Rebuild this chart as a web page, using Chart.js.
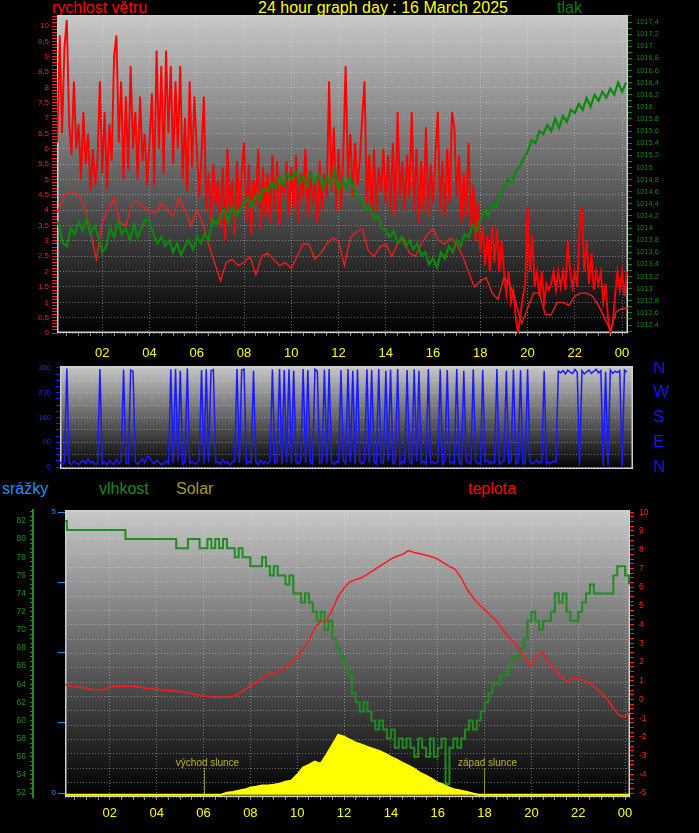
<!DOCTYPE html>
<html>
<head>
<meta charset="utf-8">
<title>24 hour graph</title>
<script src="https://cdn.jsdelivr.net/npm/chart.js@4.4.1/dist/chart.umd.min.js"></script>
<style>
  html, body { margin: 0; padding: 0; background: #000; }
  body { position: relative; width: 699px; height: 833px; overflow: hidden;
         font-family: Arial, "Liberation Sans", sans-serif; }
  canvas { position: absolute; left: 0; }
  .label { position: absolute; font-size: 16px; line-height: 18px; white-space: nowrap; }
</style>
</head>
<body>
<div class="label" style="left:52px; top:-1px; color:#ff0000">rychlost větru</div>
<div class="label" style="left:258px; top:-1px; color:#ffff00">24 hour graph day : 16 March 2025</div>
<div class="label" style="left:557px; top:-1px; color:#008000">tlak</div>
<div class="label" style="left:2px; top:480px; color:#1e90ff">srážky</div>
<div class="label" style="left:99px; top:480px; color:#1a8a1a">vlhkost</div>
<div class="label" style="left:176px; top:480px; color:#a09c22">Solar</div>
<div class="label" style="left:468px; top:480px; color:#ff0000">teplota</div>

<canvas id="wind" width="699" height="370" style="top:0"></canvas>
<canvas id="dir" width="699" height="118" style="top:362px"></canvas>
<canvas id="temp" width="699" height="333" style="top:500px"></canvas>

<script>
const GUST_STEP = 0.1;
const windGust = [
  7.7, 6.2, 9.7, 6.5, 9.3, 10.2, 6.8, 5.8, 8.2, 6.0,
  6.8, 5.0, 7.2, 5.5, 6.5, 4.6, 6.0, 4.8, 5.6, 8.2,
  5.2, 7.2, 4.7, 6.8, 5.6, 9.0, 9.7, 6.2, 8.2, 5.0,
  7.7, 5.3, 8.7, 6.0, 7.2, 5.0, 7.7, 5.6, 6.5, 4.8,
  6.2, 7.8, 4.8, 9.2, 6.0, 8.7, 5.2, 9.2, 6.5, 8.7,
  5.5, 8.2, 6.0, 8.7, 5.0, 7.0, 4.6, 8.2, 5.4, 7.7,
  6.0, 4.4, 5.8, 7.7, 4.0, 5.2, 3.6, 5.5, 4.2, 5.0,
  3.4, 5.4, 3.0, 6.0, 4.0, 5.0, 3.2, 5.6, 4.0, 5.2,
  6.2, 3.6, 5.5, 3.2, 5.0, 4.2, 6.0, 3.4, 5.4, 3.8,
  5.2, 3.6, 5.8, 4.0, 5.6, 3.5, 5.0, 4.4, 5.6, 3.8,
  5.4, 4.0, 5.8, 3.6, 5.2, 4.4, 6.0, 3.8, 5.3, 4.2,
  5.0, 3.6, 5.6, 4.0, 5.2, 4.4, 8.2, 4.6, 6.7, 4.0,
  6.0, 4.0, 5.8, 8.7, 5.0, 6.5, 4.4, 6.2, 4.8, 5.6,
  7.0, 8.2, 4.2, 5.8, 3.8, 6.0, 4.0, 5.4, 4.6, 6.0,
  4.2, 5.8, 4.0, 6.2, 3.8, 7.2, 4.4, 5.6, 4.0, 5.8,
  4.4, 7.2, 4.0, 6.0, 3.6, 5.6, 4.0, 6.7, 3.8, 5.5,
  4.2, 5.8, 7.2, 4.0, 5.6, 3.8, 6.0, 4.2, 7.2, 6.7,
  4.4, 5.8, 3.6, 5.2, 3.8, 6.2, 3.4, 4.8, 3.0, 4.2,
  2.6, 3.5, 2.2, 3.2, 2.0, 3.5, 2.3, 3.4, 2.0, 3.0,
  2.0, 1.3, 2.0, 1.0, 1.4, 0.5, 0.0, 0.6, 1.2, 1.6,
  4.1, 2.0, 3.2, 1.5, 2.0, 1.2, 2.0, 1.0, 1.6, 1.4,
  1.6, 2.0, 1.4, 2.0, 1.5, 2.0, 1.4, 3.0, 2.0, 1.5,
  2.0, 1.5, 3.4, 4.1, 2.0, 3.0, 1.6, 2.6, 1.4, 2.0,
  1.6, 2.0, 1.0, 1.6, 0.5, 0.0, 0.3, 1.2, 2.0, 1.4,
  2.0, 1.2, 2.0
];

const AVG_STEP = 0.25;
const windAvg = [
  3.8, 4.2, 4.6, 4.6,  4.5, 4.1, 3.3, 2.4,  3.6, 4.0, 4.4, 3.6,  3.5, 4.2, 4.3, 4.1,
  4.0, 3.9, 4.2, 4.0,  3.8, 4.4, 4.0, 3.5,  4.0, 3.6, 2.9, 2.3,  1.7, 2.3, 2.4, 2.2,
  2.3, 2.5, 1.9, 2.5,  2.6, 2.4, 2.2, 2.3,  2.1, 2.5, 2.9, 2.9,  2.4, 2.6, 2.9, 3.1,
  3.0, 2.2, 3.1, 3.3,  3.4, 2.7, 2.5, 2.8,  2.9, 2.5, 2.9, 3.1,  2.6, 2.5, 2.9, 3.2,
  3.4, 3.0, 2.9, 3.1,  2.9, 2.5, 2.0, 1.5,  1.7, 1.8, 1.3, 1.1,  1.8, 1.6, 1.0, 0.3,
  0.8, 1.3, 1.3, 0.6,  0.6, 1.0, 1.0, 0.9,  1.2, 1.3, 1.3, 1.2,  0.9, 0.5, 0.1, 0.7,
  0.8, 0.8
];

const PRESS_STEP = 1 / 6;
const pressure = [
  1014.15, 1014.05, 1013.75, 1013.70, 1014.00, 1013.90,
  1014.10, 1013.95, 1014.15, 1013.90, 1014.05, 1013.85,
  1013.60, 1013.70, 1014.00, 1013.85, 1014.10, 1013.90,
  1014.00, 1013.80, 1014.05, 1013.85, 1014.00, 1014.15,
  1014.10, 1013.90, 1013.75, 1013.85, 1013.70, 1013.80,
  1013.60, 1013.75, 1013.55, 1013.70, 1013.80, 1013.65,
  1013.85, 1013.75, 1013.90, 1013.80, 1014.15, 1014.05,
  1014.20, 1014.30, 1014.10, 1014.35, 1014.20, 1014.30,
  1014.40, 1014.50, 1014.35, 1014.55, 1014.45, 1014.65,
  1014.60, 1014.75, 1014.65, 1014.85, 1014.70, 1014.90,
  1014.80, 1014.95, 1014.75, 1014.85, 1014.70, 1014.90,
  1014.75, 1014.90, 1014.65, 1014.85, 1014.70, 1014.95,
  1014.60, 1014.80, 1014.65, 1014.85, 1014.60, 1014.50,
  1014.45, 1014.30, 1014.35, 1014.15, 1014.20, 1014.00,
  1013.95, 1013.85, 1013.95, 1013.75, 1013.85, 1013.70,
  1013.80, 1013.65, 1013.75, 1013.55, 1013.60, 1013.40,
  1013.50, 1013.35, 1013.60, 1013.50, 1013.70, 1013.60,
  1013.80, 1013.70, 1013.90, 1013.85, 1014.05, 1013.95,
  1014.15, 1014.30, 1014.20, 1014.40, 1014.35, 1014.55,
  1014.65, 1014.80, 1014.75, 1014.95, 1015.00, 1015.15,
  1015.25, 1015.45, 1015.40, 1015.60, 1015.55, 1015.70,
  1015.60, 1015.80, 1015.65, 1015.85, 1015.75, 1015.95,
  1015.90, 1016.05, 1015.95, 1016.15, 1016.00, 1016.20,
  1016.10, 1016.25, 1016.15, 1016.30, 1016.20, 1016.40,
  1016.25, 1016.40
];

const DIR_STEP = 0.1;
const windDir = [
  15, 12, 20, 8, 18, 358, 14, 10, 22, 16,
  9, 18, 25, 12, 30, 15, 20, 10, 14, 356,
  12, 18, 8, 24, 15, 10, 28, 14, 20, 354,
  16, 12, 352, 348, 18, 10, 22, 30, 15, 40,
  35, 20, 12, 25, 18, 8, 15, 22, 12, 355,
  15, 356, 20, 350, 10, 18, 358, 14, 22, 10,
  16, 25, 352, 12, 355, 18, 350, 354, 15, 20,
  10, 28, 14, 20, 8, 18, 22, 356, 15, 352,
  355, 12, 20, 15, 350, 18, 10, 24, 14, 20,
  12, 22, 354, 15, 20, 356, 10, 352, 18, 355,
  14, 350, 20, 12, 25, 356, 15, 352, 18, 10,
  355, 348, 14, 22, 354, 12, 356, 18, 10, 20,
  15, 352, 22, 12, 356, 18, 350, 10, 354, 20,
  12, 25, 355, 15, 352, 20, 10, 356, 18, 14,
  350, 22, 354, 12, 18, 356, 10, 20, 15, 352,
  18, 12, 355, 20, 350, 14, 22, 10, 356, 15,
  20, 12, 18, 354, 10, 22, 352, 15, 20, 12,
  356, 18, 10, 350, 22, 15, 12, 355, 20, 14,
  10, 352, 18, 25, 12, 20, 15, 356, 10, 18,
  22, 350, 14, 20, 354, 12, 18, 352, 10, 15,
  355, 20, 12, 18, 25, 14, 20, 350, 12, 18,
  15, 22, 18, 348, 342, 350, 338, 352, 345, 340,
  354, 344, 5, 350, 338, 346, 352, 340, 348, 355,
  342, 350, 4, 346, 6, 352, 340, 348, 344, 350,
  3, 352, 345
];

const HUM_STEP = 1 / 6;
const humidity = [
  82, 81, 81, 81, 81, 81,   81, 81, 81, 81, 81, 81,   81, 81, 81, 81, 80, 80,
  80, 80, 80, 80, 80, 80,   80, 80, 80, 80, 80, 79,   79, 79, 80, 80, 80, 79,
  79, 80, 79, 80, 79, 80,   79, 79, 78, 79, 78, 78,   77, 77, 77, 78, 77, 76,
  77, 76, 76, 75, 76, 74,   74, 73, 74, 73, 72, 71,   72, 70, 71, 69, 68, 67,
  66, 65, 63, 62, 61, 62,   61, 60, 59, 60, 59, 58,   59, 57, 58, 57, 58, 57,
  56, 58, 57, 56, 58, 56,   57, 58, 53, 57, 58, 57,   58, 59, 60, 59, 60, 61,
  62, 63, 64, 64, 65, 65,   66, 67, 67, 68, 69, 71,   72, 71, 70, 71, 71, 72,
  74, 73, 74, 72, 71, 71,   72, 73, 74, 75, 74, 74,   74, 74, 74, 76, 77, 77,
  76, 75
];

const TEMP_STEP = 0.25;
const temperature = [
  0.80, 0.75, 0.68, 0.65,  0.60, 0.52, 0.50, 0.55,  0.65, 0.70, 0.70, 0.70,
  0.70, 0.68, 0.60, 0.58,  0.55, 0.50, 0.48, 0.45,  0.42, 0.38, 0.30, 0.24,
  0.18, 0.14, 0.12, 0.12,  0.13, 0.16, 0.32, 0.50,  0.72, 0.90, 1.15, 1.35,
  1.42, 1.50, 1.70, 1.95,  2.30, 2.70, 3.10, 3.85,  4.15, 4.20, 4.80, 5.50,
  5.95, 6.28, 6.40, 6.50,  6.70, 6.90, 7.10, 7.30,  7.50, 7.65, 7.75, 7.95,
  7.85, 7.78, 7.70, 7.62,  7.50, 7.30, 7.10, 6.95,  6.50, 5.90, 5.45, 5.10,
  4.80, 4.50, 4.20, 3.80,  3.35, 3.05, 2.70, 2.15,  1.80, 2.35, 2.50, 1.95,
  1.60, 1.25, 0.95, 1.10,  1.10, 1.03, 0.86, 0.62,  0.32, 0.00, -0.47, -0.85,
  -0.92, -0.60
];

const SOLAR_STEP = 0.25;
const solar = [
  0, 0, 0, 0,  0, 0, 0, 0,  0, 0, 0, 0,  0, 0, 0, 0,  0, 0, 0, 0,  0, 0, 0, 0,
  0, 0, 0, 0,  7, 10, 14, 18,  25, 28, 32, 32,  35, 39, 46, 49,  70, 95, 105, 116,
  109, 140, 175, 210,  204, 193, 183, 176,  168, 161, 154, 144,  133, 123, 112, 102,
  91, 77, 67, 56,  42, 35, 25, 18,  14, 10, 4, 0,  0, 0, 0, 0,  0, 0, 0, 0,
  0, 0, 0, 0,  0, 0, 0, 0,  0, 0, 0, 0,  0, 0, 0, 0,  0, 0
];

const RAIN_STEP = 1;
const rain = [0, 0, 0, 0, 0, 0, 0, 0, 0, 0, 0, 0, 0, 0, 0, 0, 0, 0, 0, 0, 0, 0, 0, 0, 0];

const sunrise = 6.03;
const sunset = 17.99;
const compass = { 0: 'N', 90: 'E', 180: 'S', 270: 'W', 360: 'N' };

const FONT = 'Arial, "Liberation Sans", sans-serif';
Chart.defaults.font.family = FONT;
const GRID = 'rgba(230,230,230,0.42)';

// k-th multiple test done on integers so 4.0 is never lost to rounding
const every = (v, minor, major) => Math.round(v / minor) % Math.round(major / minor) === 0;
const comma = v => String(Math.round(v * 10) / 10).replace('.', ',');
const hh = v => String(Math.round(v) % 24).padStart(2, '0');
const pts = (values, step) => values.map((y, i) => ({ x: i * step, y }));
// fixed axis size, and no extra room reserved for the end labels
const fit = size => scale => {
  if (scale.isHorizontal()) scale.height = size; else scale.width = size;
  scale.paddingTop = scale.paddingBottom = scale.paddingLeft = scale.paddingRight = 0;
};
// one tick at every multiple of step inside the axis range
const stepTicks = step => scale => {
  const out = [];
  for (let k = Math.ceil(scale.min / step - 1e-9); k * step <= scale.max + 1e-9; k++) {
    out.push({ value: Math.round(k * step * 1000) / 1000 });
  }
  scale.ticks = out;
};

// grey-to-black plot background and light frame
const plotFrame = {
  id: 'plotFrame',
  beforeDraw(chart) {
    const { ctx, chartArea: a } = chart;
    const g = ctx.createLinearGradient(0, a.top, 0, a.bottom);
    g.addColorStop(0, '#c8c8c8');
    g.addColorStop(1, '#000000');
    ctx.save();
    ctx.fillStyle = g;
    ctx.fillRect(a.left, a.top, a.right - a.left, a.bottom - a.top);
    ctx.restore();
  },
  beforeDatasetsDraw(chart) {
    const { ctx, chartArea: a } = chart;
    ctx.save();
    ctx.strokeStyle = '#cfcfcf';
    ctx.lineWidth = 1.5;
    ctx.strokeRect(a.left + 0.75, a.top + 0.75, a.right - a.left - 1.5, a.bottom - a.top - 1.5);
    ctx.restore();
  }
};

const sunMarks = {
  id: 'sunMarks',
  beforeDatasetsDraw(chart) {
    const { ctx, chartArea: a, scales: { x } } = chart;
    ctx.save();
    ctx.font = '10px ' + FONT;
    ctx.textAlign = 'center';
    [[sunrise, 'východ slunce'], [sunset, 'západ slunce']].forEach(([h, text]) => {
      const px = Math.round(x.getPixelForValue(h)) + 0.5;
      ctx.strokeStyle = '#8e8e1c';
      ctx.lineWidth = 1;
      ctx.beginPath();
      ctx.moveTo(px, a.bottom - 29);
      ctx.lineTo(px, a.bottom - 2);
      ctx.stroke();
      ctx.fillStyle = '#b8b42c';
      ctx.fillText(text, px + 3, a.bottom - 31);
    });
    ctx.restore();
  }
};

function timeAxis(min, max, height, pad) {
  return {
    type: 'linear', min, max, afterFit: fit(height), afterBuildTicks: stepTicks(0.5),
    border: { display: false, dash: [1, 2] },
    grid: { color: c => c.tick && every(c.tick.value, 0.5, 2) ? GRID : 'transparent', tickColor: '#8a8a8a', tickLength: 3 },
    ticks: { autoSkip: false, maxRotation: 0, padding: pad,
             color: '#ffff00', font: { size: 13 }, callback: v => every(v, 0.5, 2) ? hh(v) : '' }
  };
}

function options(padding, scales) {
  return {
    responsive: false, animation: false, devicePixelRatio: 1,
    layout: { padding },
    plugins: { legend: { display: false }, tooltip: { enabled: false } },
    elements: { point: { radius: 0 }, line: { tension: 0 } },
    scales
  };
}

// wind speed + pressure
new Chart(document.getElementById('wind'), {
  type: 'line',
  data: { datasets: [
    { data: pts(pressure, PRESS_STEP), yAxisID: 'p', borderColor: '#0a8a0a', borderWidth: 2.2 },
    { data: pts(windAvg, AVG_STEP), yAxisID: 'y', borderColor: '#ff1a1a', borderWidth: 1.3 },
    { data: pts(windGust, GUST_STEP), yAxisID: 'y', borderColor: '#ff0000', borderWidth: 1.9 }
  ]},
  options: options({ top: 15 }, {
    x: timeAxis(0.085, 24.25, 37, 10),
    y: { type: 'linear', position: 'left', min: 0, max: 10.36, afterFit: fit(57), afterBuildTicks: stepTicks(0.1),
         border: { display: false, dash: [1, 2] },
         grid: { color: c => c.tick && every(c.tick.value, 0.1, 0.5) ? GRID : 'transparent', tickColor: '#ff1a1a', tickLength: 5 },
         ticks: { autoSkip: false, padding: 3, color: '#ff1a1a', font: { size: 8 },
                  callback: v => every(v, 0.1, 0.5) ? comma(v) : '' } },
    p: { type: 'linear', position: 'right', min: 1012.268, max: 1017.516, afterFit: fit(71), afterBuildTicks: stepTicks(0.1),
         border: { display: false },
         grid: { drawOnChartArea: false, tickColor: '#0a8a0a', tickLength: 4 },
         ticks: { autoSkip: false, padding: 4, color: '#0a8a0a', font: { size: 7.5 },
                  callback: v => every(v, 0.1, 0.2) ? comma(v) : '' } }
  }),
  plugins: [plotFrame]
});

// wind direction
new Chart(document.getElementById('dir'), {
  type: 'line',
  data: { datasets: [
    { data: pts(windDir, DIR_STEP), yAxisID: 'd', borderColor: '#1a1aff', borderWidth: 1.5 }
  ]},
  options: options({ top: 4, bottom: 11 }, {
    x: { type: 'linear', min: 0.21, max: 24.46, display: false },
    d: { type: 'linear', position: 'left', min: -7, max: 367, afterFit: fit(60), afterBuildTicks: stepTicks(22.5),
         border: { display: false, dash: [1, 2] },
         grid: { color: c => c.tick && every(c.tick.value, 22.5, 45) ? GRID : 'transparent', tickColor: '#2020ff', tickLength: 4 },
         ticks: { autoSkip: false, padding: 5, color: '#2020ff', font: { size: 7.5 },
                  callback: v => every(v, 22.5, 90) ? String(Math.round(v)) : '' } },
    c: { type: 'linear', position: 'right', min: -7, max: 367, afterFit: fit(66), afterBuildTicks: stepTicks(90),
         border: { display: false }, grid: { display: false, drawTicks: false },
         ticks: { autoSkip: false, padding: 20, color: '#1010ff', font: { size: 17 },
                  callback: v => compass[Math.round(v)] || '' } }
  }),
  plugins: [plotFrame]
});

// rain, humidity, solar, temperature
new Chart(document.getElementById('temp'), {
  type: 'line',
  data: { datasets: [
    { data: pts(temperature, TEMP_STEP), yAxisID: 't', borderColor: '#ff1a1a', borderWidth: 1.5 },
    { data: pts(humidity, HUM_STEP), yAxisID: 'h', borderColor: '#1e8c1e', borderWidth: 2, stepped: true },
    { data: pts(rain, RAIN_STEP), yAxisID: 'r', borderColor: '#1e90ff', borderWidth: 2.5 },
    { data: pts(solar, SOLAR_STEP), yAxisID: 's', borderColor: '#ffff00', backgroundColor: '#ffff00',
      borderWidth: 2, fill: 'origin' }
  ]},
  options: options({ top: 10 }, {
    x: timeAxis(0.085, 24.21, 36, 6),
    g: { type: 'linear', position: 'left', weight: -1, min: 0, max: 20, afterFit: fit(0), afterBuildTicks: stepTicks(1),
         border: { display: false, dash: [1, 2] }, grid: { color: GRID, drawTicks: false },
         ticks: { display: false } },
    r: { type: 'linear', position: 'left', weight: 0, min: -0.071, max: 5.036, afterFit: fit(32), afterBuildTicks: stepTicks(1.25),
         border: { display: false },
         grid: { drawOnChartArea: false, tickColor: '#1e90ff', tickLength: 7 },
         ticks: { autoSkip: false, padding: 2, color: '#1e90ff', font: { size: 8 },
                  callback: v => every(v, 1.25, 5) ? String(Math.round(v)) : '' } },
    h: { type: 'linear', position: 'left', weight: 1, min: 51.56, max: 83.21, afterFit: fit(33), afterBuildTicks: stepTicks(0.5),
         border: { display: true, color: '#1e8c1e', width: 2 },
         grid: { drawOnChartArea: false, tickColor: '#1e8c1e', tickLength: 3 },
         ticks: { autoSkip: false, padding: 4, color: '#1e8c1e', font: { size: 8.5 },
                  callback: v => every(v, 0.5, 2) ? String(Math.round(v)) : '' } },
    t: { type: 'linear', position: 'right', min: -5.21, max: 10.12, afterFit: fit(69), afterBuildTicks: stepTicks(0.25),
         border: { display: false },
         grid: { drawOnChartArea: false, tickColor: '#ff1a1a', tickLength: 4 },
         ticks: { autoSkip: false, padding: 5, color: '#ff1a1a', font: { size: 8.5 },
                  callback: v => every(v, 0.25, 1) ? String(Math.round(v)) : '' } },
    s: { type: 'linear', position: 'right', min: -8, max: 1000, display: false }
  }),
  plugins: [plotFrame, sunMarks]
});
</script>
</body>
</html>
